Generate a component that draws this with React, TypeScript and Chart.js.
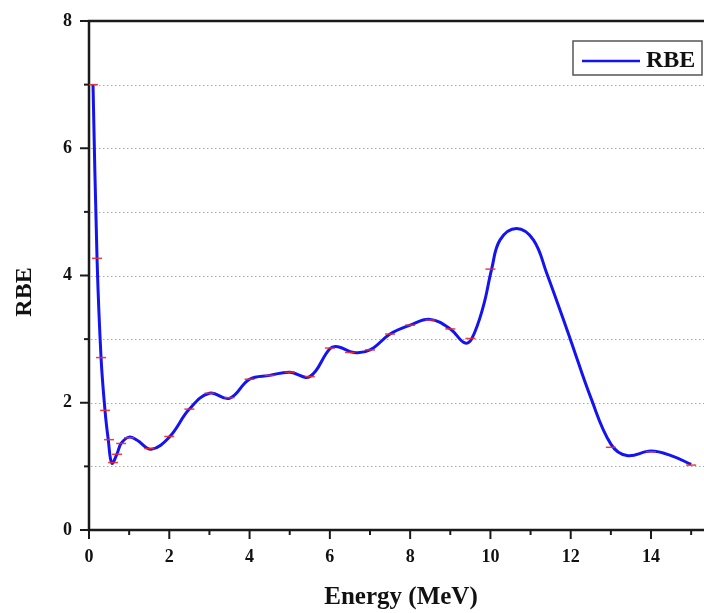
import React, { useEffect, useRef } from "react";
import { Chart, registerables } from "chart.js";

Chart.register(...registerables);

// Smooth curve
const curveEnergy = [0.1, 0.2, 0.3, 0.4, 0.48, 0.57, 0.7, 0.8, 1.0, 1.2, 1.55, 2.0, 2.5, 3.0, 3.5, 4.0, 4.5, 5.0, 5.5, 6.0, 6.2, 6.6, 7.0, 7.5, 8.0, 8.5, 9.0, 9.36, 9.53, 9.82, 10.03, 10.24, 10.65, 11.07, 11.4, 12.0, 12.5, 13.0, 13.4, 14.0, 14.5, 15.0];
const curveRBE = [7.0, 4.27, 2.71, 1.87, 1.42, 1.05, 1.2, 1.36, 1.46, 1.41, 1.27, 1.46, 1.9, 2.15, 2.07, 2.37, 2.43, 2.48, 2.41, 2.85, 2.88, 2.79, 2.83, 3.08, 3.22, 3.31, 3.16, 2.94, 3.0, 3.51, 4.1, 4.56, 4.74, 4.56, 4.04, 2.98, 2.08, 1.35, 1.17, 1.24, 1.17, 1.03];

// Data points (red markers)
const pointEnergy = [0.1, 0.2, 0.3, 0.4, 0.5, 0.6, 0.7, 0.8, 1.0, 1.5, 2.0, 2.5, 3.0, 3.5, 4.0, 4.5, 5.0, 5.5, 6.0, 6.5, 7.0, 7.5, 8.0, 8.5, 9.0, 9.5, 10.0, 13.0, 14.0, 15.0];
const pointRBE = [7.0, 4.27, 2.71, 1.88, 1.42, 1.06, 1.19, 1.36, 1.45, 1.28, 1.47, 1.9, 2.15, 2.08, 2.37, 2.43, 2.48, 2.41, 2.86, 2.79, 2.83, 3.08, 3.22, 3.3, 3.16, 3.01, 4.1, 1.3, 1.23, 1.02];

const xLabelValues = [0, 2, 4, 6, 8, 10, 12, 14];
const yLabelValues = [0, 2, 4, 6, 8];
const yGridValues = [1, 2, 3, 4, 5, 6, 7];
const xTitle = "Energy (MeV)";
const yTitle = "RBE";
const legendLabel = "RBE";

const SERIF = '"Liberation Serif", "Times New Roman", serif';

const decorPlugin = {
  id: "decor",
  beforeDatasetsDraw(chart: any) {
    const { ctx, chartArea } = chart;
    const { left, right, top, bottom } = chartArea;
    const x = chart.scales.x;
    const y = chart.scales.y;
    ctx.save();
    // dotted grid
    ctx.strokeStyle = "#a8a8a8";
    ctx.lineWidth = 1;
    ctx.setLineDash([1.5, 2.5]);
    for (const v of yGridValues) {
      const py = Math.round(y.getPixelForValue(v)) + 0.5;
      ctx.beginPath();
      ctx.moveTo(left + 2, py);
      ctx.lineTo(right + 10, py);
      ctx.stroke();
    }
    ctx.setLineDash([]);
    // ticks
    ctx.strokeStyle = "#1a1a1a";
    ctx.lineWidth = 2;
    for (let v = 0; v <= 15; v++) {
      const px = x.getPixelForValue(v);
      const len = v % 2 === 0 ? 9 : 5;
      ctx.beginPath();
      ctx.moveTo(px, bottom);
      ctx.lineTo(px, bottom + len);
      ctx.stroke();
    }
    for (let v = 0; v <= 8; v++) {
      const py = y.getPixelForValue(v);
      const len = v % 2 === 0 ? 9 : 5;
      ctx.beginPath();
      ctx.moveTo(left, py);
      ctx.lineTo(left - len, py);
      ctx.stroke();
    }
    // frame
    ctx.lineWidth = 2.5;
    ctx.beginPath();
    ctx.moveTo(right + 10, top);
    ctx.lineTo(left, top);
    ctx.lineTo(left, bottom);
    ctx.lineTo(right + 10, bottom);
    ctx.stroke();
    ctx.restore();
  },
  afterDraw(chart: any) {
    const { ctx } = chart;
    ctx.save();
    ctx.fillStyle = "#111";
    ctx.font = `bold 25px ${SERIF}`;
    ctx.textAlign = "center";
    ctx.textBaseline = "alphabetic";
    ctx.fillText(xTitle, 401, 604);
    ctx.font = `bold 24px ${SERIF}`;
    ctx.save();
    ctx.translate(31, 292);
    ctx.rotate(-Math.PI / 2);
    ctx.fillText(yTitle, 0, 0);
    ctx.restore();
    // legend box
    const bx = 573, by = 41, bw = 129, bh = 34;
    ctx.fillStyle = "#ffffff";
    ctx.fillRect(bx, by, bw, bh);
    ctx.strokeStyle = "#555";
    ctx.lineWidth = 1.5;
    ctx.strokeRect(bx, by, bw, bh);
    ctx.strokeStyle = "#1414f0";
    ctx.lineWidth = 2.5;
    ctx.beginPath();
    ctx.moveTo(582, 61);
    ctx.lineTo(640, 61);
    ctx.stroke();
    ctx.fillStyle = "#111";
    ctx.textAlign = "left";
    ctx.fillText(legendLabel, 646, 67);
    ctx.restore();
  },
};

export default function App() {
  const ref = useRef<HTMLCanvasElement | null>(null);
  useEffect(() => {
    if (!ref.current) return;
    const markerData = pointEnergy.map((e, i) => ({ x: e, y: pointRBE[i] }));
    const curveData = curveEnergy.map((e, i) => ({ x: e, y: curveRBE[i] }));
    const chart = new Chart(ref.current, {
      type: "line",
      data: {
        datasets: [
          {
            label: "points",
            data: markerData,
            showLine: false,
            pointStyle: "line",
            pointRadius: 5,
            pointBorderColor: "rgba(240,40,40,0.9)",
            pointBorderWidth: 1.5,
            pointBackgroundColor: "rgba(240,40,40,0.9)",
            borderColor: "rgba(240,40,40,0.9)",
          },
          {
            label: "RBE",
            data: curveData,
            borderColor: "#1414f0",
            borderWidth: 3,
            pointRadius: 0,
            tension: 0.4,
            fill: false,
          },
        ],
      },
      options: {
        animation: false,
        responsive: false,
        maintainAspectRatio: false,
        layout: { autoPadding: false, padding: { left: 0, right: 0, top: 21, bottom: 0 } },
        plugins: { legend: { display: false }, tooltip: { enabled: false } },
        scales: {
          x: {
            type: "linear",
            min: 0,
            max: 15.32,
            afterFit: (s: any) => {
              s.height = 83;
              s.paddingLeft = 0;
              s.paddingRight = 0;
              s.paddingTop = 0;
              s.paddingBottom = 0;
            },
            grid: { display: false, drawTicks: false },
            border: { display: false },
            ticks: {
              stepSize: 1,
              includeBounds: false,
              autoSkip: false,
              maxRotation: 0,
              padding: 17,
              color: "#111",
              font: { family: SERIF, size: 18, weight: "bold" },
              callback: (v: any) => (xLabelValues.includes(Number(v)) ? String(v) : ""),
            },
          },
          y: {
            type: "linear",
            min: 0,
            max: 8,
            afterFit: (s: any) => {
              s.width = 89;
              s.paddingLeft = 0;
              s.paddingRight = 0;
              s.paddingTop = 0;
              s.paddingBottom = 0;
            },
            grid: { display: false, drawTicks: false },
            border: { display: false },
            ticks: {
              stepSize: 1,
              autoSkip: false,
              padding: 17,
              color: "#111",
              font: { family: SERIF, size: 18, weight: "bold" },
              callback: (v: any) => (yLabelValues.includes(Number(v)) ? String(v) : ""),
            },
          },
        },
      },
      plugins: [decorPlugin],
    });
    return () => chart.destroy();
  }, []);
  return (
    <div style={{ position: "fixed", left: 0, top: 0, width: 704, height: 613, background: "#fff" }}>
      <canvas ref={ref} width={704} height={613} style={{ display: "block" }} />
    </div>
  );
}
